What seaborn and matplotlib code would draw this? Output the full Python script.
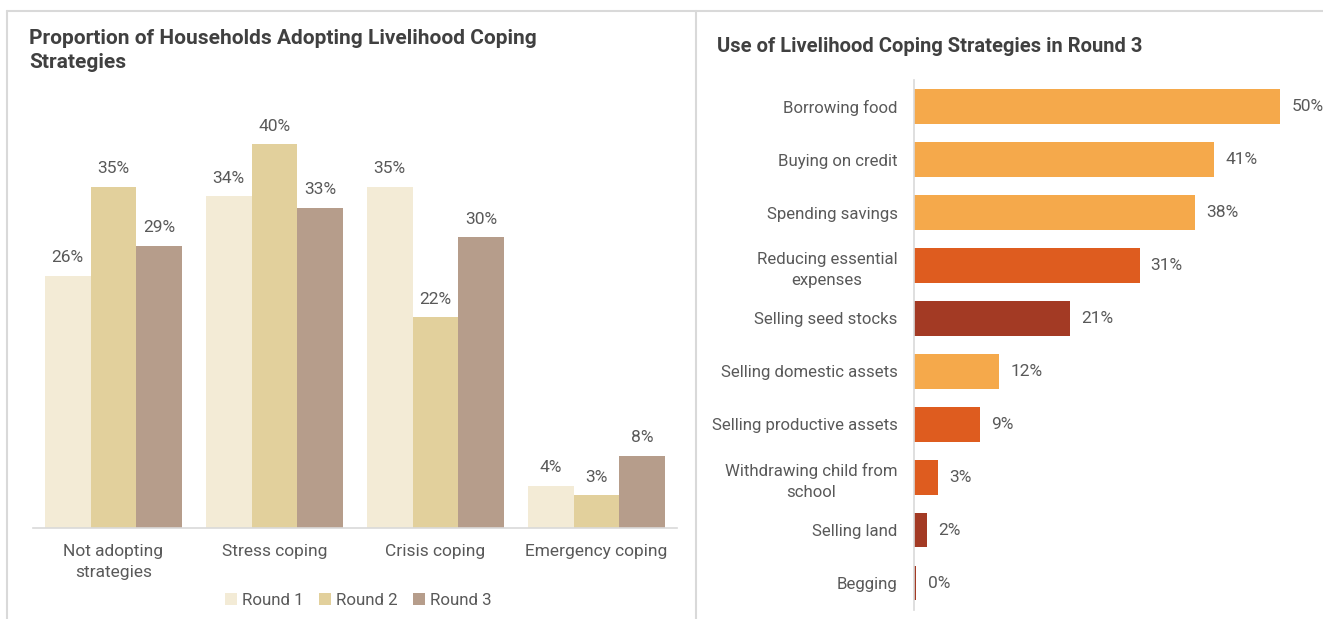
import matplotlib
matplotlib.use("Agg")
import matplotlib.pyplot as plt
from matplotlib.lines import Line2D
import seaborn as sns
import pandas as pd

# Left panel: share of households by coping category and survey round
categories = ["Not adopting\nstrategies", "Stress coping", "Crisis coping", "Emergency coping"]
rounds = ["Round 1", "Round 2", "Round 3"]
round1 = [26.1, 34.3, 35.3, 4.4]
round2 = [35.3, 39.7, 21.8, 3.4]
round3 = [29.2, 33.1, 30.1, 7.5]
round_colors = ["#F3EBD6", "#E2D09C", "#B69D8B"]

# Right panel: individual strategies used in round 3
strategies = ["Borrowing food", "Buying on credit", "Spending savings",
              "Reducing essential\nexpenses", "Selling seed stocks",
              "Selling domestic assets", "Selling productive assets",
              "Withdrawing child from\nschool", "Selling land", "Begging"]
strategy_values = [50.0, 41.0, 38.4, 30.8, 21.3, 11.7, 9.1, 3.4, 1.8, 0.4]
strategy_colors = ["#F5A94B", "#F5A94B", "#F5A94B", "#DE5C1F", "#A33A24",
                   "#F5A94B", "#DE5C1F", "#DE5C1F", "#A33A24", "#A33A24"]

sns.set_theme(style="white")
plt.rcParams["font.family"] = ["Roboto", "DejaVu Sans"]

TEXT = "#595959"
TITLE = "#404040"
GRID = "#D9D9D9"
FS = 12.5

fig = plt.figure(figsize=(13.23, 6.19), dpi=100)

# ---- left: grouped bars ----
df_left = pd.DataFrame({
    "category": categories * 3,
    "round": [r for r in rounds for _ in categories],
    "value": round1 + round2 + round3,
})
ax1 = fig.add_axes([33 / 1323, 1 - 528.3 / 619, 644 / 1323, 438.3 / 619])
sns.barplot(data=df_left, x="category", y="value", hue="round",
            palette=round_colors, width=0.857, saturation=1, linewidth=0,
            gap=0, ax=ax1, order=categories, hue_order=rounds)
for cont in ax1.containers:
    ax1.bar_label(cont, fmt="%.0f%%", padding=7.5, fontsize=FS, color=TEXT)
ax1.set_ylim(0, 45.28)
ax1.set_xlim(-0.5, 3.5)
ax1.set_xlabel("")
ax1.set_ylabel("")
ax1.set_yticks([])
for s in ["top", "right", "left"]:
    ax1.spines[s].set_visible(False)
ax1.spines["bottom"].set_color(GRID)
ax1.spines["bottom"].set_linewidth(1.2)
ax1.tick_params(axis="x", length=0, pad=11.5, labelsize=FS, labelcolor=TEXT)
for t in ax1.get_xticklabels():
    t.set_linespacing(1.5)
leg = ax1.legend(loc="center", bbox_to_anchor=(0.505, -0.165), ncol=3,
                 frameon=False, fontsize=12.2, handlelength=0.7,
                 handleheight=0.7, handletextpad=0.3, columnspacing=0.9)
for txt in leg.get_texts():
    txt.set_color(TEXT)

fig.text(29 / 1323, 1 - 50.5 / 619,
         "Proportion of Households Adopting Livelihood Coping\nStrategies",
         fontsize=15, fontweight="bold", color=TITLE, va="center", ha="left",
         linespacing=1.3)

# ---- right: horizontal bars ----
df_right = pd.DataFrame({"strategy": strategies, "value": strategy_values})
ax2 = fig.add_axes([913.5 / 1323, 1 - 609.5 / 619, 386.5 / 1323, 529.2 / 619])
sns.barplot(data=df_right, y="strategy", x="value", hue="strategy",
            palette=strategy_colors, legend=False, width=0.655, saturation=1,
            linewidth=0, orient="h", ax=ax2, order=strategies)
for cont in ax2.containers:
    ax2.bar_label(cont, fmt="%.0f%%", padding=8, fontsize=FS, color=TEXT)
ax2.set_xlim(0, 52.66)
ax2.set_ylim(9.5, -0.5)
ax2.set_xlabel("")
ax2.set_ylabel("")
ax2.set_xticks([])
for s in ["top", "right", "bottom"]:
    ax2.spines[s].set_visible(False)
ax2.spines["left"].set_color(GRID)
ax2.spines["left"].set_linewidth(1.2)
ax2.tick_params(axis="y", length=0, pad=11.5, labelsize=12.1, labelcolor=TEXT)
for t in ax2.get_yticklabels():
    t.set_multialignment("center")
    t.set_linespacing(1.5)

fig.text(717 / 1323, 1 - 46 / 619, "Use of Livelihood Coping Strategies in Round 3",
         fontsize=14.5, fontweight="bold", color=TITLE, va="center", ha="left")

# ---- panel frame lines ----
top_y = 1 - 11 / 619
fig.add_artist(Line2D([7 / 1323, 1], [top_y, top_y], color=GRID, lw=1.5))
fig.add_artist(Line2D([7 / 1323, 7 / 1323], [0, top_y], color=GRID, lw=1.5))
fig.add_artist(Line2D([696 / 1323, 696 / 1323], [0, top_y], color=GRID, lw=1.5))

fig.savefig("out.png", dpi=100)
